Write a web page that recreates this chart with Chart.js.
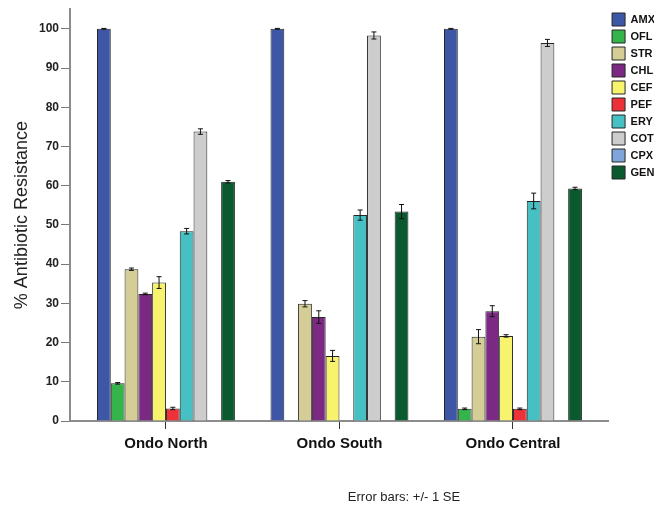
<!DOCTYPE html>
<html>
<head>
<meta charset="utf-8">
<script src="https://cdn.jsdelivr.net/npm/chart.js@4/dist/chart.umd.min.js"></script>
<style>
    body { margin: 0; background: #fff; }
    #wrap { position: relative; width: 654px; height: 508px; overflow: hidden; }
    #note {
        position: absolute; left: 0; width: 808px; top: 489px;
        text-align: center; font: 13px "Liberation Sans", Arial, sans-serif; color: #222;
    }
</style>
</head>
<body>
<div id="wrap">
    <canvas id="resistChart" width="654" height="508"></canvas>
    <div id="note">Error bars: +/- 1 SE</div>
</div>
<script>
// regions and antibiotics
const regions = ['Ondo North', 'Ondo South', 'Ondo Central'];
const antibiotics = ['AMX', 'OFL', 'STR', 'CHL', 'CEF', 'PEF', 'ERY', 'COT', 'CPX', 'GEN'];

// % resistance per region, in antibiotic order (null = no bar)
const north   = [100, 9.6, 38.7, 32.4, 35.3, 3.2, 48.4, 73.8, null, 61.0];
const south   = [100, null, 29.9, 26.5, 16.6, null, 52.5, 98.3, null, 53.4];
const central = [100, 3.1, 21.5, 28.0, 21.7, 3.1, 56.1, 96.4, null, 59.3];

// standard errors
const northSE   = [0.1, 0.2, 0.3, 0.2, 1.5, 0.3, 0.7, 0.7, null, 0.3];
const southSE   = [0.1, null, 0.8, 1.6, 1.4, null, 1.3, 0.9, null, 1.8];
const centralSE = [0.1, 0.2, 1.8, 1.4, 0.3, 0.2, 2.0, 0.9, null, 0.3];

const yTicks = [0, 10, 20, 30, 40, 50, 60, 70, 80, 90, 100];

const colors = ['#3d56a6', '#34b44a', '#d4cd95', '#7b2982', '#f8f36c',
                '#ec3238', '#46c0c2', '#cdcdcd', '#7ea6da', '#0b5a2f'];

const font = '"Liberation Sans", Arial, sans-serif';

const byRegion = [north, south, central];
const seByRegion = [northSE, southSE, centralSE];

const datasets = antibiotics.map((name, i) => ({
    label: name,
    data: byRegion.map((vals, r) => ({ x: r, y: vals[i] })),
    se: seByRegion.map(errs => errs[i]),
    backgroundColor: colors[i],
    borderColor: '#262626',
    borderWidth: 1
}));

// draws the +/- 1 SE whiskers on top of the bars
const errorBars = {
    id: 'errorBars',
    afterDatasetsDraw(chart) {
        const ctx = chart.ctx;
        const y = chart.scales.y;
        ctx.save();
        ctx.strokeStyle = '#111';
        ctx.lineWidth = 1;
        chart.data.datasets.forEach((ds, i) => {
            const meta = chart.getDatasetMeta(i);
            meta.data.forEach((bar, j) => {
                const v = ds.data[j].y;
                const e = ds.se[j];
                if (v === null || e === null) return;
                const top = y.getPixelForValue(v + e);
                const bot = y.getPixelForValue(v - e);
                ctx.beginPath();
                ctx.moveTo(bar.x, top);
                ctx.lineTo(bar.x, bot);
                ctx.moveTo(bar.x - 2.5, top);
                ctx.lineTo(bar.x + 2.5, top);
                ctx.moveTo(bar.x - 2.5, bot);
                ctx.lineTo(bar.x + 2.5, bot);
                ctx.stroke();
            });
        });
        ctx.restore();
    }
};

new Chart(document.getElementById('resistChart'), {
    type: 'bar',
    data: { datasets: datasets },
    options: {
        responsive: false,
        animation: false,
        categoryPercentage: 0.795,
        barPercentage: 1.0,
        layout: { padding: { left: 0, right: -11, top: 9, bottom: 0 } },
        scales: {
            x: {
                type: 'linear',
                min: -0.553,
                max: 2.548,
                offset: false,
                afterBuildTicks: s => { s.ticks = [0, 1, 2].map(v => ({ value: v })); },
                afterFit: s => { s.height = 87; },
                grid: { drawOnChartArea: false, drawTicks: true, tickLength: 8, color: '#333', offset: false },
                border: { color: '#8c8c8c', width: 2 },
                ticks: {
                    padding: 6,
                    color: '#111',
                    font: { family: font, size: 15, weight: 'bold' },
                    callback: v => regions[v]
                }
            },
            y: {
                min: 0,
                max: 105,
                afterBuildTicks: s => { s.ticks = yTicks.map(v => ({ value: v })); },
                afterFit: s => { s.width = 70; },
                grid: { drawOnChartArea: false, drawTicks: true, tickLength: 9, color: '#777' },
                border: { color: '#8c8c8c', width: 2 },
                ticks: {
                    padding: 2,
                    color: '#222',
                    font: { family: font, size: 12, weight: 'bold' }
                },
                title: {
                    display: true,
                    text: '% Antibiotic Resistance',
                    color: '#222',
                    font: { family: font, size: 18 },
                    padding: { top: 11, bottom: 0 }
                }
            }
        },
        plugins: {
            legend: {
                position: 'right',
                align: 'start',
                labels: {
                    boxWidth: 13,
                    boxHeight: 13,
                    padding: 4,
                    color: '#111',
                    font: { family: font, size: 11, weight: 'bold' }
                }
            },
            tooltip: { enabled: false }
        }
    },
    plugins: [errorBars]
});
</script>
</body>
</html>
